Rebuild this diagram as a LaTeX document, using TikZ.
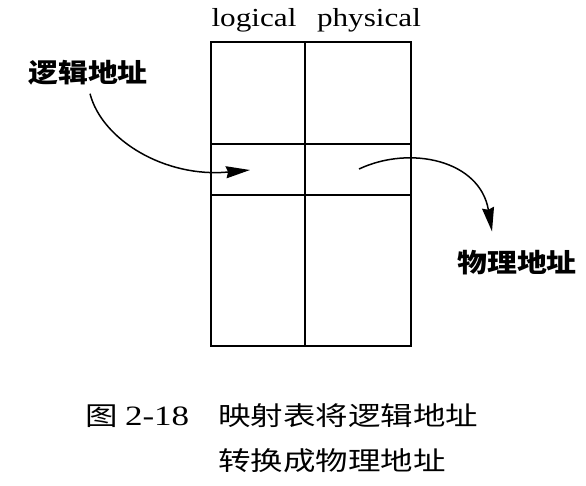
\documentclass[tikz,border=0pt]{standalone}
\usepackage{fontspec}
\setmainfont{Liberation Serif}
\newfontfamily\cjk{Noto Sans CJK SC}
\usetikzlibrary{positioning,arrows.meta}

\begin{document}
\begin{tikzpicture}[x=1pt,y=-1pt,
    txt/.style={inner sep=0pt,xscale=1.2,font=\fontsize{26}{30}\selectfont},
    tag/.style={inner sep=0pt,xscale=1.15,font=\cjk\bfseries\fontsize{26}{30}\selectfont},
    figcap/.style={inner sep=0pt,xscale=1.25,anchor=west,font=\cjk\fontsize{26}{30}\selectfont},
    maparrow/.style={line width=1.5pt,-{Stealth[length=24pt,width=12pt,inset=2pt]}}]
        \useasboundingbox (0,0) rectangle (586,485);
        % mapping table
        \draw[line width=1.8pt] (211,42) rectangle (411,346);
        \foreach \y in {144,195} {
          \draw[line width=1.5pt] (211,\y) -- (411,\y);
        }
        \draw[line width=1.5pt] (305,42) -- (305,346);
        \node[txt,anchor=base] (logical) at (254,26) {logical};
        \node[txt,anchor=base] (physical) at (369,26) {physical};
        % addresses
        \node[tag] (laddr) at (88,73) {逻辑地址};
        \node[tag] (paddr) at (517,263) {物理地址};
        \coordinate (lin) at (250,170);
        \coordinate (pout) at (359,169);
        \draw[maparrow] ([shift={(2,8)}]laddr.south) .. controls (102,140) and (165,178) .. (lin);
        \draw[maparrow] (pout) .. controls (410,145) and (480,160) .. ([shift={(-25,-19)}]paddr.north);
        % caption
        \node[figcap] (fignum) at (85,416) {图 {\rmfamily\fontsize{28}{30}\selectfont 2-18}};
        \node[figcap] (capa) at (218,416) {映射表将逻辑地址};
        \node[figcap] (capb) at (218,461) {转换成物理地址};
      \end{tikzpicture}
\end{document}
